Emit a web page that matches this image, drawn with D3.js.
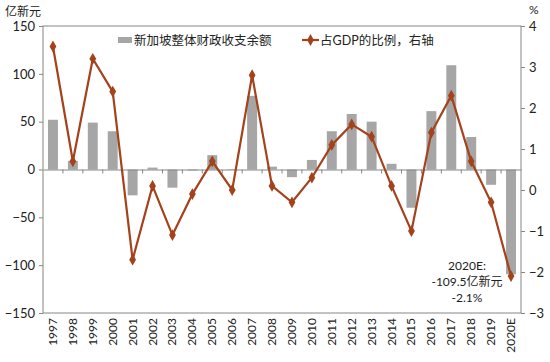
<!DOCTYPE html>
<html>
<head>
<meta charset="utf-8">
<script src="https://cdn.jsdelivr.net/npm/d3@7"></script>
<style>
  body { margin: 0; background: #fff; }
  text { font-family: Lato, "Noto Sans CJK SC", sans-serif; }
</style>
</head>
<body>
<script>
var years = ["1997","1998","1999","2000","2001","2002","2003","2004","2005","2006","2007","2008",
             "2009","2010","2011","2012","2013","2014","2015","2016","2017","2018","2019","2020E"];
// 新加坡整体财政收支余额 (亿新元)
var balance = [52, 9, 49, 40, -27, 2, -19, -1, 15, 0.5, 77, 3,
               -8, 10, 40, 58, 50, 6, -40, 61, 109, 34, -16, -109.5];
// 占GDP的比例 (%)
var ratio = [3.5, 0.7, 3.2, 2.4, -1.7, 0.1, -1.1, -0.1, 0.7, 0.0, 2.8, 0.1,
             -0.3, 0.3, 1.1, 1.6, 1.3, 0.1, -1.0, 1.4, 2.3, 0.7, -0.3, -2.1];
var leftTicks = [150, 100, 50, 0, -50, -100, -150];
var rightTicks = [4, 3, 2, 1, 0, -1, -2, -3];

var W = 550, H = 362;
var m = {left: 43, right: 29, top: 26, bottom: 49};

var svg = d3.select("body").append("svg")
    .attr("width", W)
    .attr("height", H);

var x = d3.scaleBand()
    .domain(years)
    .range([m.left, W - m.right])
    .paddingInner(0.5)
    .paddingOuter(0.25);

var yL = d3.scaleLinear().domain([-150, 150]).range([H - m.bottom, m.top]);
var yR = d3.scaleLinear().domain([-3, 4]).range([H - m.bottom, m.top]);

var barColor = "#a6a6a6";
var lineColor = "#a3421b";
var axisColor = "#868686";

// bars
svg.selectAll("rect.bar")
    .data(years)
    .enter()
    .append("rect")
    .attr("class", "bar")
    .attr("x", d => x(d))
    .attr("width", x.bandwidth())
    .attr("y", (d, i) => yL(Math.max(0, balance[i])))
    .attr("height", (d, i) => Math.abs(yL(balance[i]) - yL(0)))
    .attr("fill", barColor);

// plot frame
svg.append("rect")
    .attr("x", m.left)
    .attr("y", m.top)
    .attr("width", W - m.left - m.right)
    .attr("height", H - m.top - m.bottom)
    .attr("fill", "none")
    .attr("stroke", axisColor)
    .attr("stroke-width", 1);

// zero line with category ticks
var xAxis = svg.append("g")
    .attr("transform", "translate(0," + yL(0) + ")")
    .call(d3.axisBottom(x).tickSize(0).tickFormat(""));
xAxis.select(".domain").attr("stroke", axisColor);
var step = x.step();
xAxis.selectAll("line.sep")
    .data(years.slice(1))
    .enter()
    .append("line")
    .attr("class", "sep")
    .attr("x1", d => x(d) - step * 0.25)
    .attr("x2", d => x(d) - step * 0.25)
    .attr("y1", 0)
    .attr("y2", 4)
    .attr("stroke", axisColor);

// year labels at bottom
svg.selectAll("text.year")
    .data(years)
    .enter()
    .append("text")
    .attr("class", "year")
    .attr("transform", d => "translate(" + (x(d) + x.bandwidth() / 2 + 4) + "," + (H - m.bottom + 5) + ") rotate(-90)")
    .attr("text-anchor", "end")
    .attr("font-size", 12)
    .attr("fill", "#222")
    .text(d => d);

// left axis
var gL = svg.append("g")
    .attr("transform", "translate(" + m.left + ",0)")
    .call(d3.axisLeft(yL).tickValues(leftTicks).tickSize(4).tickPadding(4));
gL.select(".domain").remove();
gL.selectAll("line").attr("stroke", axisColor);
gL.selectAll("text").attr("font-size", 13).attr("fill", "#222")
    .style("font-family", "Lato, sans-serif");

// right axis
var gR = svg.append("g")
    .attr("transform", "translate(" + (W - m.right) + ",0)")
    .call(d3.axisRight(yR).tickValues(rightTicks).tickFormat(d3.format("d")).tickSize(4).tickPadding(4));
gR.select(".domain").remove();
gR.selectAll("line").attr("stroke", axisColor);
gR.selectAll("text").attr("font-size", 13).attr("fill", "#222")
    .style("font-family", "Lato, sans-serif");

// line series
var line = d3.line()
    .x((d, i) => x(years[i]) + x.bandwidth() / 2)
    .y(d => yR(d));

svg.append("path")
    .datum(ratio)
    .attr("d", line)
    .attr("fill", "none")
    .attr("stroke", lineColor)
    .attr("stroke-width", 2.2);

svg.selectAll("path.marker")
    .data(ratio)
    .enter()
    .append("path")
    .attr("class", "marker")
    .attr("transform", (d, i) => "translate(" + (x(years[i]) + x.bandwidth() / 2) + "," + yR(d) + ")")
    .attr("d", d3.symbol().type(d3.symbolDiamond).size(40))
    .attr("fill", lineColor);

// axis titles
svg.append("text")
    .attr("x", 5).attr("y", 16)
    .attr("font-size", 12)
    .attr("fill", "#222")
    .style("font-family", "'Noto Sans CJK SC', sans-serif")
    .text("亿新元");
svg.append("text")
    .attr("x", 529).attr("y", 14)
    .attr("font-size", 12)
    .attr("fill", "#222")
    .text("%");

// legend
var lg = svg.append("g").style("font-family", "'Noto Sans CJK SC', sans-serif");
lg.append("rect")
    .attr("x", 118).attr("y", 37)
    .attr("width", 14).attr("height", 6)
    .attr("fill", barColor);
lg.append("text")
    .attr("x", 134).attr("y", 44.5)
    .attr("font-size", 12.5)
    .attr("fill", "#222")
    .text("新加坡整体财政收支余额");
lg.append("line")
    .attr("x1", 302).attr("x2", 319)
    .attr("y1", 40).attr("y2", 40)
    .attr("stroke", lineColor)
    .attr("stroke-width", 2.2);
lg.append("path")
    .attr("transform", "translate(310.5,40)")
    .attr("d", d3.symbol().type(d3.symbolDiamond).size(40))
    .attr("fill", lineColor);
lg.append("text")
    .attr("x", 320).attr("y", 44.5)
    .attr("font-size", 12.5)
    .attr("fill", "#222")
    .text("占GDP的比例，右轴");

// annotation
var ann = svg.append("text")
    .attr("text-anchor", "middle")
    .attr("font-size", 12)
    .attr("fill", "#222");
var ax = 467;
ann.append("tspan").attr("x", ax).attr("y", 270).text("2020E:");
ann.append("tspan").attr("x", ax).attr("y", 286).text("-109.5亿新元");
ann.append("tspan").attr("x", ax).attr("y", 302).text("-2.1%");
</script>
</body>
</html>
